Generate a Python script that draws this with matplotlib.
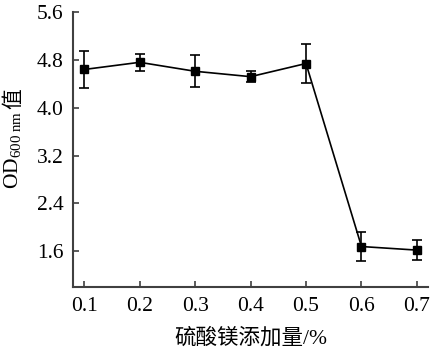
import matplotlib
matplotlib.use('Agg')
from matplotlib import pyplot as plt

plt.rcParams['font.family'] = ['Liberation Serif', 'Noto Sans CJK SC']
plt.rcParams['mathtext.fontset'] = 'custom'
plt.rcParams['mathtext.rm'] = 'Liberation Serif'
plt.rcParams['mathtext.it'] = 'Liberation Serif:italic'

# data
dose = [0.1, 0.2, 0.3, 0.4, 0.5, 0.6, 0.7]
od = [4.64, 4.76, 4.61, 4.52, 4.74, 1.68, 1.62]
err = [0.31, 0.14, 0.27, 0.09, 0.32, 0.25, 0.17]
yticks = [1.6, 2.4, 3.2, 4.0, 4.8, 5.6]

spine_col = '#404040'

fig = plt.figure(figsize=(4.35, 3.55), dpi=100)
ax = fig.add_axes([0.168, 0.191, 0.816, 0.775])

ax.errorbar(dose, od, yerr=err, color='black', lw=1.2, marker='s', ms=6,
            capsize=3.5, elinewidth=1.2, capthick=1.2)

ax.set_xlim(0.08, 0.72)
ax.set_ylim(1.0, 5.6)
ax.set_xticks(dose)
ax.set_xticklabels(['%.1f' % d for d in dose])
ax.set_yticks(yticks)
ax.set_yticklabels(['%.1f' % t for t in yticks])

for s in ['top', 'right']:
    ax.spines[s].set_visible(False)
for s in ['left', 'bottom']:
    ax.spines[s].set_color(spine_col)
    ax.spines[s].set_linewidth(1.5)
ax.tick_params(direction='in', length=4, width=1.2, color=spine_col,
               labelsize=15.5, pad=7)

ax.set_xlabel('硫酸镁添加量/%', fontsize=15.5)
ax.xaxis.set_label_coords(0.5, -0.15)
ax.set_ylabel(r'OD$_{\mathrm{600\ nm}}$', fontsize=15.5)
ax.yaxis.set_label_coords(-0.14, 0.5)

fig.canvas.draw()
bb = ax.yaxis.label.get_window_extent()
xc = (bb.x0 + bb.x1) / 2 / fig.bbox.width
yt = (bb.y1 + 1) / fig.bbox.height
fig.text(xc, yt, '值', rotation=90, fontsize=15, ha='center', va='bottom',
         family=['Noto Sans CJK SC'])

fig.savefig('out.png', dpi=100)
